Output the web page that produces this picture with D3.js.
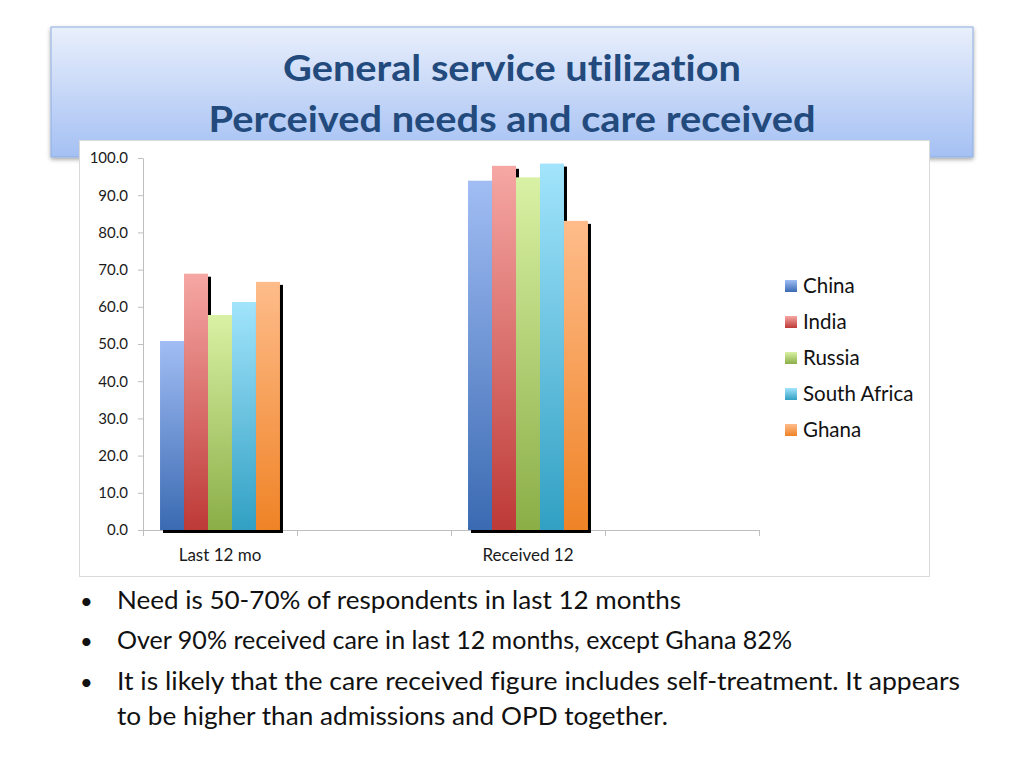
<!DOCTYPE html>
<html>
<head>
<meta charset="utf-8">
<script src="https://cdn.jsdelivr.net/npm/d3@7"></script>
<style>
  html, body { margin: 0; padding: 0; background: #ffffff; }
  svg { display: block; }
  text { font-variant-ligatures: none; font-feature-settings: "liga" 0, "clig" 0; }
</style>
</head>
<body>
<svg id="chart" width="1024" height="768"></svg>
<script>
// ---- data ----
const titleLines = ["General service utilization", "Perceived needs and care received"];
const categories = ["Last 12 mo", "", "Received 12", ""];
const seriesNames = ["China", "India", "Russia", "South Africa", "Ghana"];
const china       = [50.8, null, 93.9, null];
const india       = [68.9, null, 97.9, null];
const russia      = [57.8, null, 94.8, null];
const southAfrica = [61.3, null, 98.5, null];
const ghana       = [66.7, null, 83.1, null];
const yTicks = [0, 10, 20, 30, 40, 50, 60, 70, 80, 90, 100];
const bullets = [
  ["Need is 50-70% of respondents in last 12 months"],
  ["Over 90% received care in last 12 months, except Ghana 82%"],
  ["It is likely that the care received figure includes self-treatment. It appears",
   "to be higher than admissions and OPD together."]
];

const seriesValues = [china, india, russia, southAfrica, ghana];
const seriesColors = [
  ["#a1bdf4", "#3a6ab2"],
  ["#f6a7a4", "#bd3a37"],
  ["#d9f1a4", "#8bae47"],
  ["#a2e4fc", "#31a0c3"],
  ["#febc8a", "#ef8326"]
];

const svg = d3.select("#chart");
const defs = svg.append("defs");
const FONT = "Lato, 'Open Sans', sans-serif";

// gradients
seriesNames.forEach((s, i) => {
  const g = defs.append("linearGradient").attr("id", "grad" + i)
    .attr("x1", 0).attr("y1", 0).attr("x2", 0).attr("y2", 1);
  g.append("stop").attr("offset", "0%").attr("stop-color", seriesColors[i][0]);
  g.append("stop").attr("offset", "100%").attr("stop-color", seriesColors[i][1]);
});
const tg = defs.append("linearGradient").attr("id", "titleGrad")
  .attr("x1", 0).attr("y1", 0).attr("x2", 0).attr("y2", 1);
tg.append("stop").attr("offset", "0%").attr("stop-color", "#e9effc");
tg.append("stop").attr("offset", "100%").attr("stop-color", "#a4c0f3");
const f = defs.append("filter").attr("id", "tshadow").attr("x", "-5%").attr("y", "-10%").attr("width", "110%").attr("height", "130%");
f.append("feDropShadow").attr("dx", 0).attr("dy", 2).attr("stdDeviation", 2).attr("flood-color", "#000").attr("flood-opacity", 0.35);

// ---- title box ----
svg.append("rect").attr("x", 51).attr("y", 27).attr("width", 922).attr("height", 130)
  .attr("fill", "url(#titleGrad)").attr("stroke", "#8eaee0").attr("stroke-width", 1)
  .attr("filter", "url(#tshadow)");
const titleWidths = [458, 607];
svg.selectAll("text.title").data(titleLines).join("text")
  .attr("class", "title")
  .attr("x", 512).attr("y", (d, i) => 81 + i * 51)
  .attr("text-anchor", "middle")
  .attr("font-family", FONT)
  .attr("font-weight", "bold").attr("font-size", 37)
  .attr("fill", "#234a7c")
  .attr("textLength", (d, i) => titleWidths[i])
  .attr("lengthAdjust", "spacingAndGlyphs")
  .text(d => d);

// ---- chart box ----
svg.append("rect").attr("x", 79.5).attr("y", 140.5).attr("width", 850).attr("height", 436)
  .attr("fill", "#ffffff").attr("stroke", "#d9d9d9").attr("stroke-width", 1);

const plot = { left: 143, right: 759, top: 158, bottom: 530 };
const y = d3.scaleLinear().domain([0, 100]).range([plot.bottom, plot.top]);
const x0 = d3.scaleBand().domain(d3.range(categories.length)).range([plot.left, plot.right]).padding(0);
const x1 = d3.scaleBand().domain(seriesNames).range([0, x0.bandwidth()]).paddingInner(0).paddingOuter(0.71);

// y axis
const yAxis = svg.append("g").attr("transform", `translate(${plot.left},0)`)
  .call(d3.axisLeft(y).tickValues(yTicks).tickFormat(d3.format(".1f")).tickSizeInner(5).tickSizeOuter(0).tickPadding(10));
yAxis.select(".domain").attr("stroke", "#bfbfbf");
yAxis.selectAll(".tick line").attr("stroke", "#bfbfbf");
yAxis.selectAll(".tick text").attr("font-family", FONT).attr("font-size", 15).attr("fill", "#1a1a1a");

// x axis
const xAxisG = svg.append("g").attr("transform", `translate(0,${plot.bottom})`);
xAxisG.append("line").attr("x1", plot.left).attr("x2", plot.right).attr("y1", 0.5).attr("y2", 0.5).attr("stroke", "#bfbfbf");
const bounds = d3.range(categories.length + 1).map(i => i < categories.length ? x0(i) : x0(i - 1) + x0.bandwidth());
xAxisG.selectAll("line.tk").data(bounds).join("line").attr("class", "tk")
  .attr("x1", d => Math.round(d) + 0.5).attr("x2", d => Math.round(d) + 0.5)
  .attr("y1", 0).attr("y2", 6).attr("stroke", "#bfbfbf");
xAxisG.selectAll("text").data(categories).join("text")
  .attr("x", (d, i) => x0(i) + x0.bandwidth() / 2).attr("y", 31)
  .attr("text-anchor", "middle")
  .attr("font-family", FONT).attr("font-size", 17).attr("fill", "#1a1a1a")
  .text(d => d);

// bars
const barData = [];
seriesNames.forEach((s, si) => {
  seriesValues[si].forEach((v, ci) => {
    if (v != null) barData.push({ s, si, ci, v });
  });
});
const bars = svg.append("g");
bars.selectAll("rect.shadow").data(barData).join("rect").attr("class", "shadow")
  .attr("x", d => x0(d.ci) + x1(d.s) + 3)
  .attr("y", d => y(d.v) + 3)
  .attr("width", x1.bandwidth())
  .attr("height", d => y(0) - y(d.v))
  .attr("fill", "#000");
bars.selectAll("rect.bar").data(barData).join("rect").attr("class", "bar")
  .attr("x", d => x0(d.ci) + x1(d.s))
  .attr("y", d => y(d.v))
  .attr("width", x1.bandwidth())
  .attr("height", d => y(0) - y(d.v))
  .attr("fill", d => `url(#grad${d.si})`);

// legend
const legend = svg.append("g").attr("transform", "translate(785,286)");
const li = legend.selectAll("g").data(seriesNames).join("g")
  .attr("transform", (d, i) => `translate(0,${i * 36})`);
li.append("rect").attr("x", 0).attr("y", -6).attr("width", 12).attr("height", 12)
  .attr("fill", (d, i) => `url(#grad${i})`);
li.append("text").attr("x", 18).attr("y", 7)
  .attr("font-family", FONT).attr("font-size", 20.5).attr("fill", "#111")
  .text(d => d);

// bullets
const bulletWidths = [[564], [675], [843, 551]];
const baselines = [[609], [649], [690, 725]];
bullets.forEach((lines, bi) => {
  svg.append("text").attr("x", 80).attr("y", baselines[bi][0])
    .attr("font-family", FONT).attr("font-size", 22).attr("fill", "#111")
    .text("•");
  lines.forEach((t, li2) => {
    svg.append("text").attr("x", 117).attr("y", baselines[bi][li2])
      .attr("font-family", FONT).attr("font-size", 25).attr("fill", "#111")
      .attr("textLength", bulletWidths[bi][li2]).attr("lengthAdjust", "spacingAndGlyphs")
      .text(t);
  });
});
</script>
</body>
</html>
